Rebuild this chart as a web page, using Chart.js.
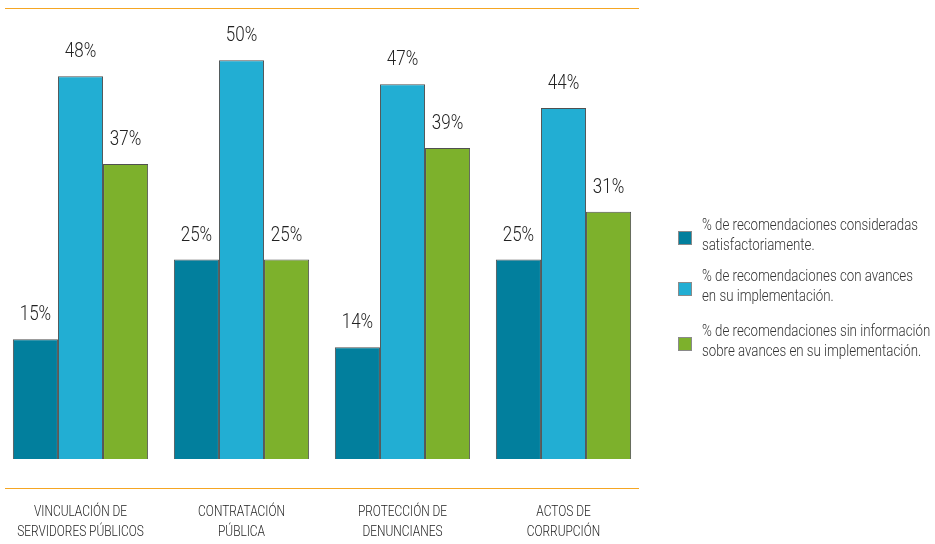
<!DOCTYPE html>
<html lang="es">
<head>
<meta charset="utf-8">
<script src="https://cdn.jsdelivr.net/npm/chart.js@4.4.1/dist/chart.umd.min.js"></script>
<style>
  html, body { margin: 0; padding: 0; background: #fff; }
  #wrap { position: relative; width: 935px; height: 544px; }
  .item { position: absolute; left: 678px; height: 40px; }
  .sw { position: absolute; left: 0; top: 16px; width: 14px; height: 14px; border: 1px solid #8a8a8a; box-sizing: border-box; }
  .txt {
    position: absolute; left: 24px; top: 0; white-space: nowrap;
    font-family: Roboto, sans-serif; font-weight: 300;
    font-size: 16px; line-height: 20px; color: #333;
    transform: scaleX(0.83); transform-origin: 0 0;
  }
</style>
</head>
<body>
<div id="wrap">
  <canvas id="grafica" width="935" height="544"></canvas>
</div>
<script>
const categorias = [
  ["VINCULACIÓN DE", "SERVIDORES PÚBLICOS"],
  ["CONTRATACIÓN", "PÚBLICA"],
  ["PROTECCIÓN DE", "DENUNCIANES"],
  ["ACTOS DE", "CORRUPCIÓN"]
];
const satisfactorias = [15, 25, 14, 25];
const conAvances = [48, 50, 47, 44];
const sinInformacion = [37, 25, 39, 31];

const nombres = [
  ["% de recomendaciones consideradas", "satisfactoriamente."],
  ["% de recomendaciones con avances", "en su implementación."],
  ["% de recomendaciones sin información", "sobre avances en su implementación."]
];
const colores = ["#027f9d", "#22aed3", "#7db12c"];

// texto angosto: Roboto ligera comprimida a lo ancho
function texto(ctx, str, x, y, size, sx) {
  ctx.save();
  ctx.translate(x, y);
  ctx.scale(sx, 1);
  ctx.font = "300 " + size + "px Roboto, sans-serif";
  ctx.fillText(str, 0, 0);
  ctx.restore();
}

// lineas naranjas arriba y debajo de las barras
const lineas = {
  id: "lineas",
  beforeDraw(chart) {
    const { ctx, chartArea } = chart;
    ctx.save();
    ctx.strokeStyle = "#f5a623";
    ctx.lineWidth = 1.2;
    [chartArea.top - 1.5, chartArea.bottom + 29.5].forEach(y => {
      ctx.beginPath();
      ctx.moveTo(5, y);
      ctx.lineTo(639, y);
      ctx.stroke();
    });
    ctx.restore();
  }
};

// porcentajes encima de cada barra y nombres de categoria bajo el eje
const etiquetas = {
  id: "etiquetas",
  afterDatasetsDraw(chart) {
    const { ctx } = chart;
    ctx.save();
    ctx.fillStyle = "#222";
    ctx.textAlign = "center";
    ctx.textBaseline = "middle";
    chart.data.datasets.forEach((ds, i) => {
      chart.getDatasetMeta(i).data.forEach((bar, j) => {
        texto(ctx, ds.data[j] + "%", bar.x, bar.y - 24, 20, 0.85);
      });
    });
    const x = chart.scales.x;
    chart.data.labels.forEach((lab, i) => {
      const px = x.getPixelForTick(i);
      lab.forEach((linea, k) => {
        texto(ctx, linea, px, chart.chartArea.bottom + 53 + k * 20, 14.5, 0.82);
      });
    });
    ctx.restore();
  }
};

const series = [satisfactorias, conAvances, sinInformacion];

new Chart(document.getElementById("grafica"), {
  type: "bar",
  data: {
    labels: categorias,
    datasets: series.map((d, i) => ({
      label: nombres[i].join(" "),
      data: d,
      backgroundColor: colores[i],
      borderColor: "#505050",
      borderWidth: 1,
      barPercentage: 1,
      categoryPercentage: 0.84
    }))
  },
  options: {
    responsive: false,
    animation: false,
    layout: { padding: { left: 0, right: 291, top: 10, bottom: 0 } },
    plugins: { legend: { display: false }, tooltip: { enabled: false } },
    scales: {
      y: { display: false, min: 0, max: 56.3 },
      x: {
        grid: { display: false, drawTicks: false },
        border: { display: false },
        ticks: { display: false },
        afterFit: s => { s.height = 85; }
      }
    }
  },
  plugins: [lineas, etiquetas]
});

// leyenda a la derecha
const tops = [215, 266, 321];
const wrap = document.getElementById("wrap");
nombres.forEach((n, i) => {
  const it = document.createElement("div");
  it.className = "item";
  it.style.top = tops[i] + "px";
  it.innerHTML = '<span class="sw" style="background:' + colores[i] + '"></span>' +
    '<span class="txt">' + n.join("<br>") + '</span>';
  wrap.appendChild(it);
});
</script>
</body>
</html>
